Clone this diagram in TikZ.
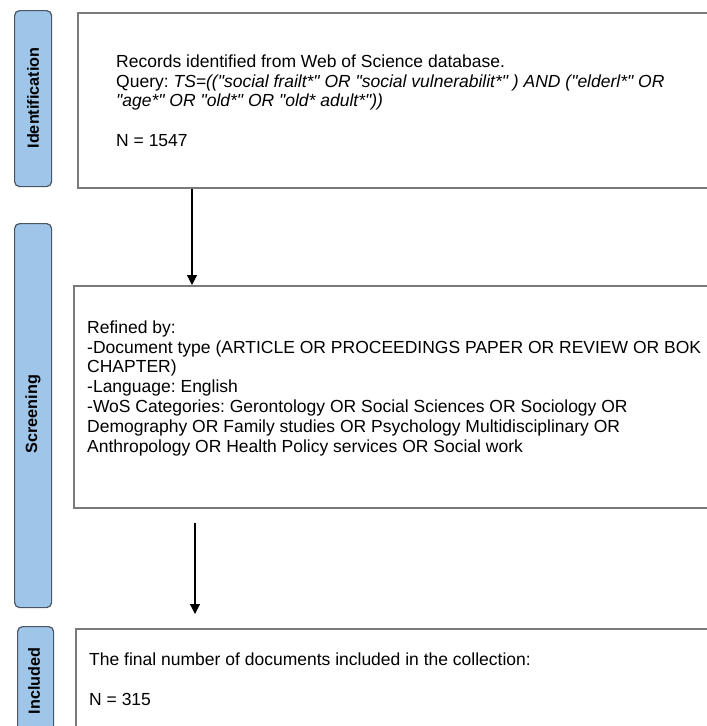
\documentclass[tikz,border=0pt]{standalone}
\usepackage{fontspec}
\setmainfont{Liberation Sans}[Ligatures=TeXOff]
\usetikzlibrary{arrows.meta}
\definecolor{tabfill}{HTML}{9FC5E8}
\definecolor{tabdraw}{HTML}{4A5563}
\definecolor{boxdraw}{HTML}{7A7A7A}
\tikzset{
  mainbox/.style={draw=boxdraw, line width=1.8pt, fill=white, rectangle, inner sep=0pt, anchor=north west},
  tabbox/.style={draw=tabdraw, line width=1.2pt, fill=tabfill, rounded corners=5pt, rectangle, inner sep=0pt, anchor=north west},
  tablabel/.style={rotate=90, font=\fontsize{16.2}{18}\selectfont\bfseries, text=black, inner sep=0pt},
  txt/.style={align=left, anchor=north west, inner sep=0pt, text=black, font=\fontsize{17.5}{19.8}\selectfont},
  flow/.style={draw=black, line width=1.1pt, -{Triangle[width=10pt,length=10pt]}}
}
\frenchspacing
\begin{document}
\begin{tikzpicture}[x=1pt,y=-1pt]
\useasboundingbox (0,0) rectangle (707,726);
\clip (0,0) rectangle (707,726);
% tabs
\node[tabbox, minimum width=37pt, minimum height=176pt] (tab1) at (14,10) {};
\node[tabbox, minimum width=37pt, minimum height=384pt] (tab2) at (14,223) {};
\node[tabbox, minimum width=36pt, minimum height=120pt] (tab3) at (17,626) {};
\node[tablabel] (l1) at (33,98) {Identification};
\node[tablabel] (l2) at (33,414) {Screening};
\node[tablabel] (l3) at (34,681) {Included};
% boxes
\node[mainbox, minimum width=640pt, minimum height=175pt] (b1) at (77,12) {};
\node[mainbox, minimum width=645pt, minimum height=222pt] (b2) at (73,285) {};
\node[mainbox, minimum width=645pt, minimum height=120pt] (b3) at (75,628) {};
% texts
\node[txt] (t1) at (116,53) {\rule{0pt}{14pt}Records identified from Web of Science database.\\
Query: \textit{TS=(("social frailt*" OR "social vulnerabilit*" ) AND ("elderl*" OR}\\
\textit{"age*" OR "old*" OR "old* adult*"))}\\[20pt]
N = 1547};
\node[txt] (t2) at (87,319) {\rule{0pt}{14pt}Refined by:\\
-Document type (ARTICLE OR PROCEEDINGS PAPER OR REVIEW OR BOK\\
CHAPTER)\\
-Language: English\\
-WoS Categories: Gerontology OR Social Sciences OR Sociology OR\\
Demography OR Family studies OR Psychology Multidisciplinary OR\\
Anthropology OR Health Policy services OR Social work};
\node[txt] (t3) at (89,651) {\rule{0pt}{14pt}The final number of documents included in the collection:\\[20pt]
N = 315};
% arrows
\coordinate (a1s) at (b1.south west -| 192,0);
\coordinate (a1e) at (b2.north west -| 192,0);
\draw[flow] (a1s) -- (a1e);
\coordinate (a2s) at (b2.south west -| 195,0);
\coordinate (a2e) at (b3.north west -| 195,0);
\draw[flow, shorten <=14pt, shorten >=14pt] (a2s) -- (a2e);
\end{tikzpicture}
\end{document}
